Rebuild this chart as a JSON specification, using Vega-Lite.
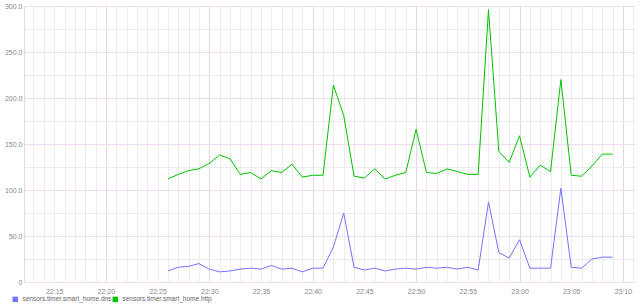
{
  "$schema": "https://vega.github.io/schema/vega-lite/v6.json",
  "width": 611,
  "height": 276,
  "autosize": "none",
  "padding": {"left": 24, "top": 6, "right": 5, "bottom": 25},
  "background": "white",
  "config": {
    "view": {"stroke": null},
    "axis": {"labelFont": "Liberation Sans", "labelFontSize": 7, "labelColor": "#888888", "title": null},
    "legend": {"labelFont": "Liberation Sans"}
  },
  "data": {"values": [
      {"t": "2024-01-01T22:26:00", "s": "sensors.timer.smart_home.dns", "v": 12},
      {"t": "2024-01-01T22:27:00", "s": "sensors.timer.smart_home.dns", "v": 16},
      {"t": "2024-01-01T22:28:00", "s": "sensors.timer.smart_home.dns", "v": 17},
      {"t": "2024-01-01T22:29:00", "s": "sensors.timer.smart_home.dns", "v": 20},
      {"t": "2024-01-01T22:30:00", "s": "sensors.timer.smart_home.dns", "v": 14},
      {"t": "2024-01-01T22:31:00", "s": "sensors.timer.smart_home.dns", "v": 11},
      {"t": "2024-01-01T22:32:00", "s": "sensors.timer.smart_home.dns", "v": 12},
      {"t": "2024-01-01T22:33:00", "s": "sensors.timer.smart_home.dns", "v": 14},
      {"t": "2024-01-01T22:34:00", "s": "sensors.timer.smart_home.dns", "v": 15},
      {"t": "2024-01-01T22:35:00", "s": "sensors.timer.smart_home.dns", "v": 14},
      {"t": "2024-01-01T22:36:00", "s": "sensors.timer.smart_home.dns", "v": 18},
      {"t": "2024-01-01T22:37:00", "s": "sensors.timer.smart_home.dns", "v": 14},
      {"t": "2024-01-01T22:38:00", "s": "sensors.timer.smart_home.dns", "v": 15},
      {"t": "2024-01-01T22:39:00", "s": "sensors.timer.smart_home.dns", "v": 11},
      {"t": "2024-01-01T22:40:00", "s": "sensors.timer.smart_home.dns", "v": 15},
      {"t": "2024-01-01T22:41:00", "s": "sensors.timer.smart_home.dns", "v": 15},
      {"t": "2024-01-01T22:42:00", "s": "sensors.timer.smart_home.dns", "v": 38},
      {"t": "2024-01-01T22:43:00", "s": "sensors.timer.smart_home.dns", "v": 75},
      {"t": "2024-01-01T22:44:00", "s": "sensors.timer.smart_home.dns", "v": 16},
      {"t": "2024-01-01T22:45:00", "s": "sensors.timer.smart_home.dns", "v": 13},
      {"t": "2024-01-01T22:46:00", "s": "sensors.timer.smart_home.dns", "v": 15},
      {"t": "2024-01-01T22:47:00", "s": "sensors.timer.smart_home.dns", "v": 12},
      {"t": "2024-01-01T22:48:00", "s": "sensors.timer.smart_home.dns", "v": 14},
      {"t": "2024-01-01T22:49:00", "s": "sensors.timer.smart_home.dns", "v": 15},
      {"t": "2024-01-01T22:50:00", "s": "sensors.timer.smart_home.dns", "v": 14},
      {"t": "2024-01-01T22:51:00", "s": "sensors.timer.smart_home.dns", "v": 16},
      {"t": "2024-01-01T22:52:00", "s": "sensors.timer.smart_home.dns", "v": 15},
      {"t": "2024-01-01T22:53:00", "s": "sensors.timer.smart_home.dns", "v": 16},
      {"t": "2024-01-01T22:54:00", "s": "sensors.timer.smart_home.dns", "v": 14},
      {"t": "2024-01-01T22:55:00", "s": "sensors.timer.smart_home.dns", "v": 16},
      {"t": "2024-01-01T22:56:00", "s": "sensors.timer.smart_home.dns", "v": 13},
      {"t": "2024-01-01T22:57:00", "s": "sensors.timer.smart_home.dns", "v": 87},
      {"t": "2024-01-01T22:58:00", "s": "sensors.timer.smart_home.dns", "v": 32},
      {"t": "2024-01-01T22:59:00", "s": "sensors.timer.smart_home.dns", "v": 26},
      {"t": "2024-01-01T23:00:00", "s": "sensors.timer.smart_home.dns", "v": 46},
      {"t": "2024-01-01T23:01:00", "s": "sensors.timer.smart_home.dns", "v": 15},
      {"t": "2024-01-01T23:02:00", "s": "sensors.timer.smart_home.dns", "v": 15},
      {"t": "2024-01-01T23:03:00", "s": "sensors.timer.smart_home.dns", "v": 15},
      {"t": "2024-01-01T23:04:00", "s": "sensors.timer.smart_home.dns", "v": 102},
      {"t": "2024-01-01T23:05:00", "s": "sensors.timer.smart_home.dns", "v": 16},
      {"t": "2024-01-01T23:06:00", "s": "sensors.timer.smart_home.dns", "v": 15},
      {"t": "2024-01-01T23:07:00", "s": "sensors.timer.smart_home.dns", "v": 25},
      {"t": "2024-01-01T23:08:00", "s": "sensors.timer.smart_home.dns", "v": 27},
      {"t": "2024-01-01T23:09:00", "s": "sensors.timer.smart_home.dns", "v": 27},
      {"t": "2024-01-01T22:26:00", "s": "sensors.timer.smart_home.http", "v": 112},
      {"t": "2024-01-01T22:27:00", "s": "sensors.timer.smart_home.http", "v": 117},
      {"t": "2024-01-01T22:28:00", "s": "sensors.timer.smart_home.http", "v": 121},
      {"t": "2024-01-01T22:29:00", "s": "sensors.timer.smart_home.http", "v": 123},
      {"t": "2024-01-01T22:30:00", "s": "sensors.timer.smart_home.http", "v": 129},
      {"t": "2024-01-01T22:31:00", "s": "sensors.timer.smart_home.http", "v": 138},
      {"t": "2024-01-01T22:32:00", "s": "sensors.timer.smart_home.http", "v": 134},
      {"t": "2024-01-01T22:33:00", "s": "sensors.timer.smart_home.http", "v": 117},
      {"t": "2024-01-01T22:34:00", "s": "sensors.timer.smart_home.http", "v": 119},
      {"t": "2024-01-01T22:35:00", "s": "sensors.timer.smart_home.http", "v": 112},
      {"t": "2024-01-01T22:36:00", "s": "sensors.timer.smart_home.http", "v": 121},
      {"t": "2024-01-01T22:37:00", "s": "sensors.timer.smart_home.http", "v": 119},
      {"t": "2024-01-01T22:38:00", "s": "sensors.timer.smart_home.http", "v": 128},
      {"t": "2024-01-01T22:39:00", "s": "sensors.timer.smart_home.http", "v": 114},
      {"t": "2024-01-01T22:40:00", "s": "sensors.timer.smart_home.http", "v": 116},
      {"t": "2024-01-01T22:41:00", "s": "sensors.timer.smart_home.http", "v": 116},
      {"t": "2024-01-01T22:42:00", "s": "sensors.timer.smart_home.http", "v": 214},
      {"t": "2024-01-01T22:43:00", "s": "sensors.timer.smart_home.http", "v": 181},
      {"t": "2024-01-01T22:44:00", "s": "sensors.timer.smart_home.http", "v": 115},
      {"t": "2024-01-01T22:45:00", "s": "sensors.timer.smart_home.http", "v": 113},
      {"t": "2024-01-01T22:46:00", "s": "sensors.timer.smart_home.http", "v": 123},
      {"t": "2024-01-01T22:47:00", "s": "sensors.timer.smart_home.http", "v": 112},
      {"t": "2024-01-01T22:48:00", "s": "sensors.timer.smart_home.http", "v": 116},
      {"t": "2024-01-01T22:49:00", "s": "sensors.timer.smart_home.http", "v": 119},
      {"t": "2024-01-01T22:50:00", "s": "sensors.timer.smart_home.http", "v": 166},
      {"t": "2024-01-01T22:51:00", "s": "sensors.timer.smart_home.http", "v": 119},
      {"t": "2024-01-01T22:52:00", "s": "sensors.timer.smart_home.http", "v": 118},
      {"t": "2024-01-01T22:53:00", "s": "sensors.timer.smart_home.http", "v": 123},
      {"t": "2024-01-01T22:54:00", "s": "sensors.timer.smart_home.http", "v": 120},
      {"t": "2024-01-01T22:55:00", "s": "sensors.timer.smart_home.http", "v": 117},
      {"t": "2024-01-01T22:56:00", "s": "sensors.timer.smart_home.http", "v": 117},
      {"t": "2024-01-01T22:57:00", "s": "sensors.timer.smart_home.http", "v": 296},
      {"t": "2024-01-01T22:58:00", "s": "sensors.timer.smart_home.http", "v": 142},
      {"t": "2024-01-01T22:59:00", "s": "sensors.timer.smart_home.http", "v": 130},
      {"t": "2024-01-01T23:00:00", "s": "sensors.timer.smart_home.http", "v": 159},
      {"t": "2024-01-01T23:01:00", "s": "sensors.timer.smart_home.http", "v": 114},
      {"t": "2024-01-01T23:02:00", "s": "sensors.timer.smart_home.http", "v": 127},
      {"t": "2024-01-01T23:03:00", "s": "sensors.timer.smart_home.http", "v": 120},
      {"t": "2024-01-01T23:04:00", "s": "sensors.timer.smart_home.http", "v": 220},
      {"t": "2024-01-01T23:05:00", "s": "sensors.timer.smart_home.http", "v": 116},
      {"t": "2024-01-01T23:06:00", "s": "sensors.timer.smart_home.http", "v": 115},
      {"t": "2024-01-01T23:07:00", "s": "sensors.timer.smart_home.http", "v": 126},
      {"t": "2024-01-01T23:08:00", "s": "sensors.timer.smart_home.http", "v": 139},
      {"t": "2024-01-01T23:09:00", "s": "sensors.timer.smart_home.http", "v": 139}
  ]},
  "layer": [
    {
      "mark": {"type": "line", "opacity": 0},
      "encoding": {
        "x": {"field": "t", "type": "temporal",
          "scale": {"domain": [{"year": 2024, "month": 1, "date": 1, "hours": 22, "minutes": 12, "seconds": 5}, {"year": 2024, "month": 1, "date": 1, "hours": 23, "minutes": 11, "seconds": 10}]},
          "axis": {"orient": "bottom", "tickCount": 59, "grid": true, "gridColor": "#ececec", "labels": false, "ticks": false, "domain": false}},
        "y": {"field": "v", "type": "quantitative", "scale": {"domain": [0, 300], "nice": false},
          "axis": {"orient": "left", "values": [25, 75, 125, 175, 225, 275], "grid": true, "gridColor": "#ececec", "labels": false, "ticks": false, "domain": false}},
        "detail": {"field": "s"}
      }
    },
    {
      "mark": {"type": "line", "opacity": 0},
      "encoding": {
        "x": {"field": "t", "type": "temporal",
          "axis": {"orient": "bottom", "values": [
            {"year": 2024, "month": 1, "date": 1, "hours": 22, "minutes": 20},
            {"year": 2024, "month": 1, "date": 1, "hours": 22, "minutes": 30},
            {"year": 2024, "month": 1, "date": 1, "hours": 22, "minutes": 40},
            {"year": 2024, "month": 1, "date": 1, "hours": 22, "minutes": 50},
            {"year": 2024, "month": 1, "date": 1, "hours": 23, "minutes": 0},
            {"year": 2024, "month": 1, "date": 1, "hours": 23, "minutes": 10}],
            "grid": true, "gridColor": "#e4d6e4", "labels": false, "ticks": false, "domain": false}},
        "y": {"field": "v", "type": "quantitative",
          "axis": {"orient": "left", "values": [0, 50, 100, 150, 200, 250, 300], "grid": true, "gridColor": "#f0dcf0", "ticks": false, "domain": true, "domainColor": "#e8d6e8", "labelPadding": 2, "labelExpr": "datum.value == 0 ? '0' : format(datum.value, '.1f')"}},
        "detail": {"field": "s"}
      }
    },
    {
      "mark": {"type": "line", "strokeWidth": 1},
      "encoding": {
        "x": {"field": "t", "type": "temporal",
          "axis": {"orient": "bottom", "tickCount": 12, "format": "%H:%M", "grid": false, "ticks": false, "domain": false, "labelPadding": 5}},
        "y": {"field": "v", "type": "quantitative", "axis": null},
        "color": {"field": "s", "type": "nominal",
          "scale": {"domain": ["sensors.timer.smart_home.dns", "sensors.timer.smart_home.http"], "range": ["#7373ff", "#00c400"]},
          "legend": {"orient": "none", "legendX": -12, "legendY": 290, "direction": "horizontal", "title": null, "padding": 0,
            "symbolType": "square", "symbolSize": 30, "symbolStrokeWidth": 0, "labelFontSize": 6.5, "labelColor": "#666666", "labelOffset": 4, "columnPadding": 0,
            "encode": {"symbols": {"update": {"fill": {"scale": "color", "field": "value"}, "opacity": {"value": 1}}}}}}
      }
    }
  ],
  "resolve": {"axis": {"x": "independent", "y": "independent"}}
}
